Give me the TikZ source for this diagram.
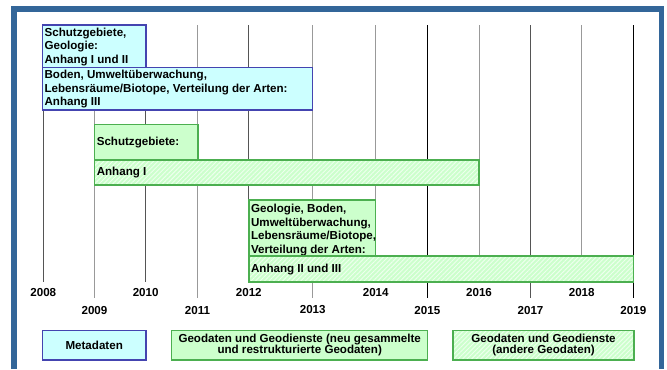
\documentclass[tikz,border=0pt]{standalone}
\usepackage{fontspec}
\setmainfont{Liberation Sans}
\usetikzlibrary{patterns.meta}
\definecolor{frameblue}{HTML}{336699}
\definecolor{metafill}{HTML}{CCFFFF}
\definecolor{metaline}{HTML}{4444B0}
\definecolor{geofill}{HTML}{CCFFCC}
\definecolor{geoline}{HTML}{4CAF50}
\definecolor{hatchline}{HTML}{EEFFEE}
\definecolor{gridgray}{HTML}{999999}
\definecolor{griddark}{HTML}{555555}
\begin{document}
\begin{tikzpicture}[x=0.75pt,y=-0.75pt,
  lbl/.style={font=\fontsize{8.7}{10.1}\selectfont\bfseries, inner sep=0pt, align=left, anchor=west},
  leg/.style={font=\fontsize{8.7}{8.3}\selectfont\bfseries, inner sep=0pt, align=center},
  year/.style={font=\fontsize{8.7}{10}\selectfont\bfseries, inner sep=0pt},
  metabox/.style={draw=metaline, fill=metafill, line width=1pt},
  geobox/.style={draw=geoline, fill=geofill, line width=1pt},
  hatchbox/.style={draw=geoline, line width=1pt, preaction={fill=geofill},
    pattern={Lines[angle=45,distance=2.4pt,line width=0.7pt]}, pattern color=hatchline},
  gridA/.style={draw=black, line width=0.75pt},
  gridB/.style={draw=gridgray, line width=0.75pt},
  gridC/.style={draw=griddark, line width=0.9pt}
]
\useasboundingbox (0,0) rectangle (667,369);
\fill[white] (0,0) rectangle (667,369);
\fill[frameblue] (11,6) rectangle (664,369);
\fill[white] (17,12) rectangle (658.7,369);

% grid lines and year labels
\foreach \yr/\x/\st/\yb/\ly in {2008/43.3/gridC/282/292.7, 2009/94.5/gridB/298/310, 2010/145.7/gridC/282/292.7,
  2011/197.5/gridB/298/310, 2012/248.8/gridC/282/292.7, 2013/312.7/gridB/298/310,
  2014/375.7/gridB/282/292.7, 2015/427.3/gridA/298/310, 2016/479/gridB/282/292.7,
  2017/530.5/gridC/298/310, 2018/581.7/gridB/282/292.7, 2019/633.3/gridA/298/310}{
  \coordinate (t\yr) at (\x,25);
  \coordinate (b\yr) at (\x,\yb);
  \draw[\st] (t\yr) -- (b\yr);
  \node[year] (y\yr) at (\x,\ly) {\yr};
}

% Metadaten boxes
\draw[metabox] (42.3,25) rectangle (146,67.7);
\node[lbl] (boxA) at (44.3,46.8) {Schutzgebiete,\\Geologie:\\Anhang I und II};
\draw[metabox] (42.3,67.7) rectangle (312.7,110);
\node[lbl] (boxB) at (44.3,89.4) {Boden, Umweltüberwachung,\\Lebensräume/Biotope, Verteilung der Arten:\\Anhang III};

% Geodaten boxes
\draw[geobox] (94.7,124.7) rectangle (198,160);
\node[lbl] (boxC) at (96.5,143) {Schutzgebiete:};
\draw[hatchbox] (94.7,160) rectangle (479,185);
\node[lbl] (boxD) at (96.5,173) {Anhang I};
\draw[geobox] (249,200) rectangle (375.7,256);
\node[lbl] (boxE) at (250.8,230) {Geologie, Boden,\\Umweltüberwachung,\\Lebensräume/Biotope,\\Verteilung der Arten:};
\draw[hatchbox] (249,256) rectangle (633.3,282);
\node[lbl] (boxF) at (250.8,269.5) {Anhang II und III};

% legend
\draw[metabox] (42.3,330.3) rectangle (146,360);
\node[leg] (legM) at (94.2,345) {Metadaten};
\draw[geobox] (171.7,330.3) rectangle (427.7,360);
\node[leg] (legG) at (299.7,345.3) {Geodaten und Geodienste (neu gesammelte\\und restrukturierte Geodaten)};
\draw[hatchbox] (453,330.3) rectangle (634,360);
\node[leg] (legH) at (543.5,345.3) {Geodaten und Geodienste\\(andere Geodaten)};
\end{tikzpicture}
\end{document}
